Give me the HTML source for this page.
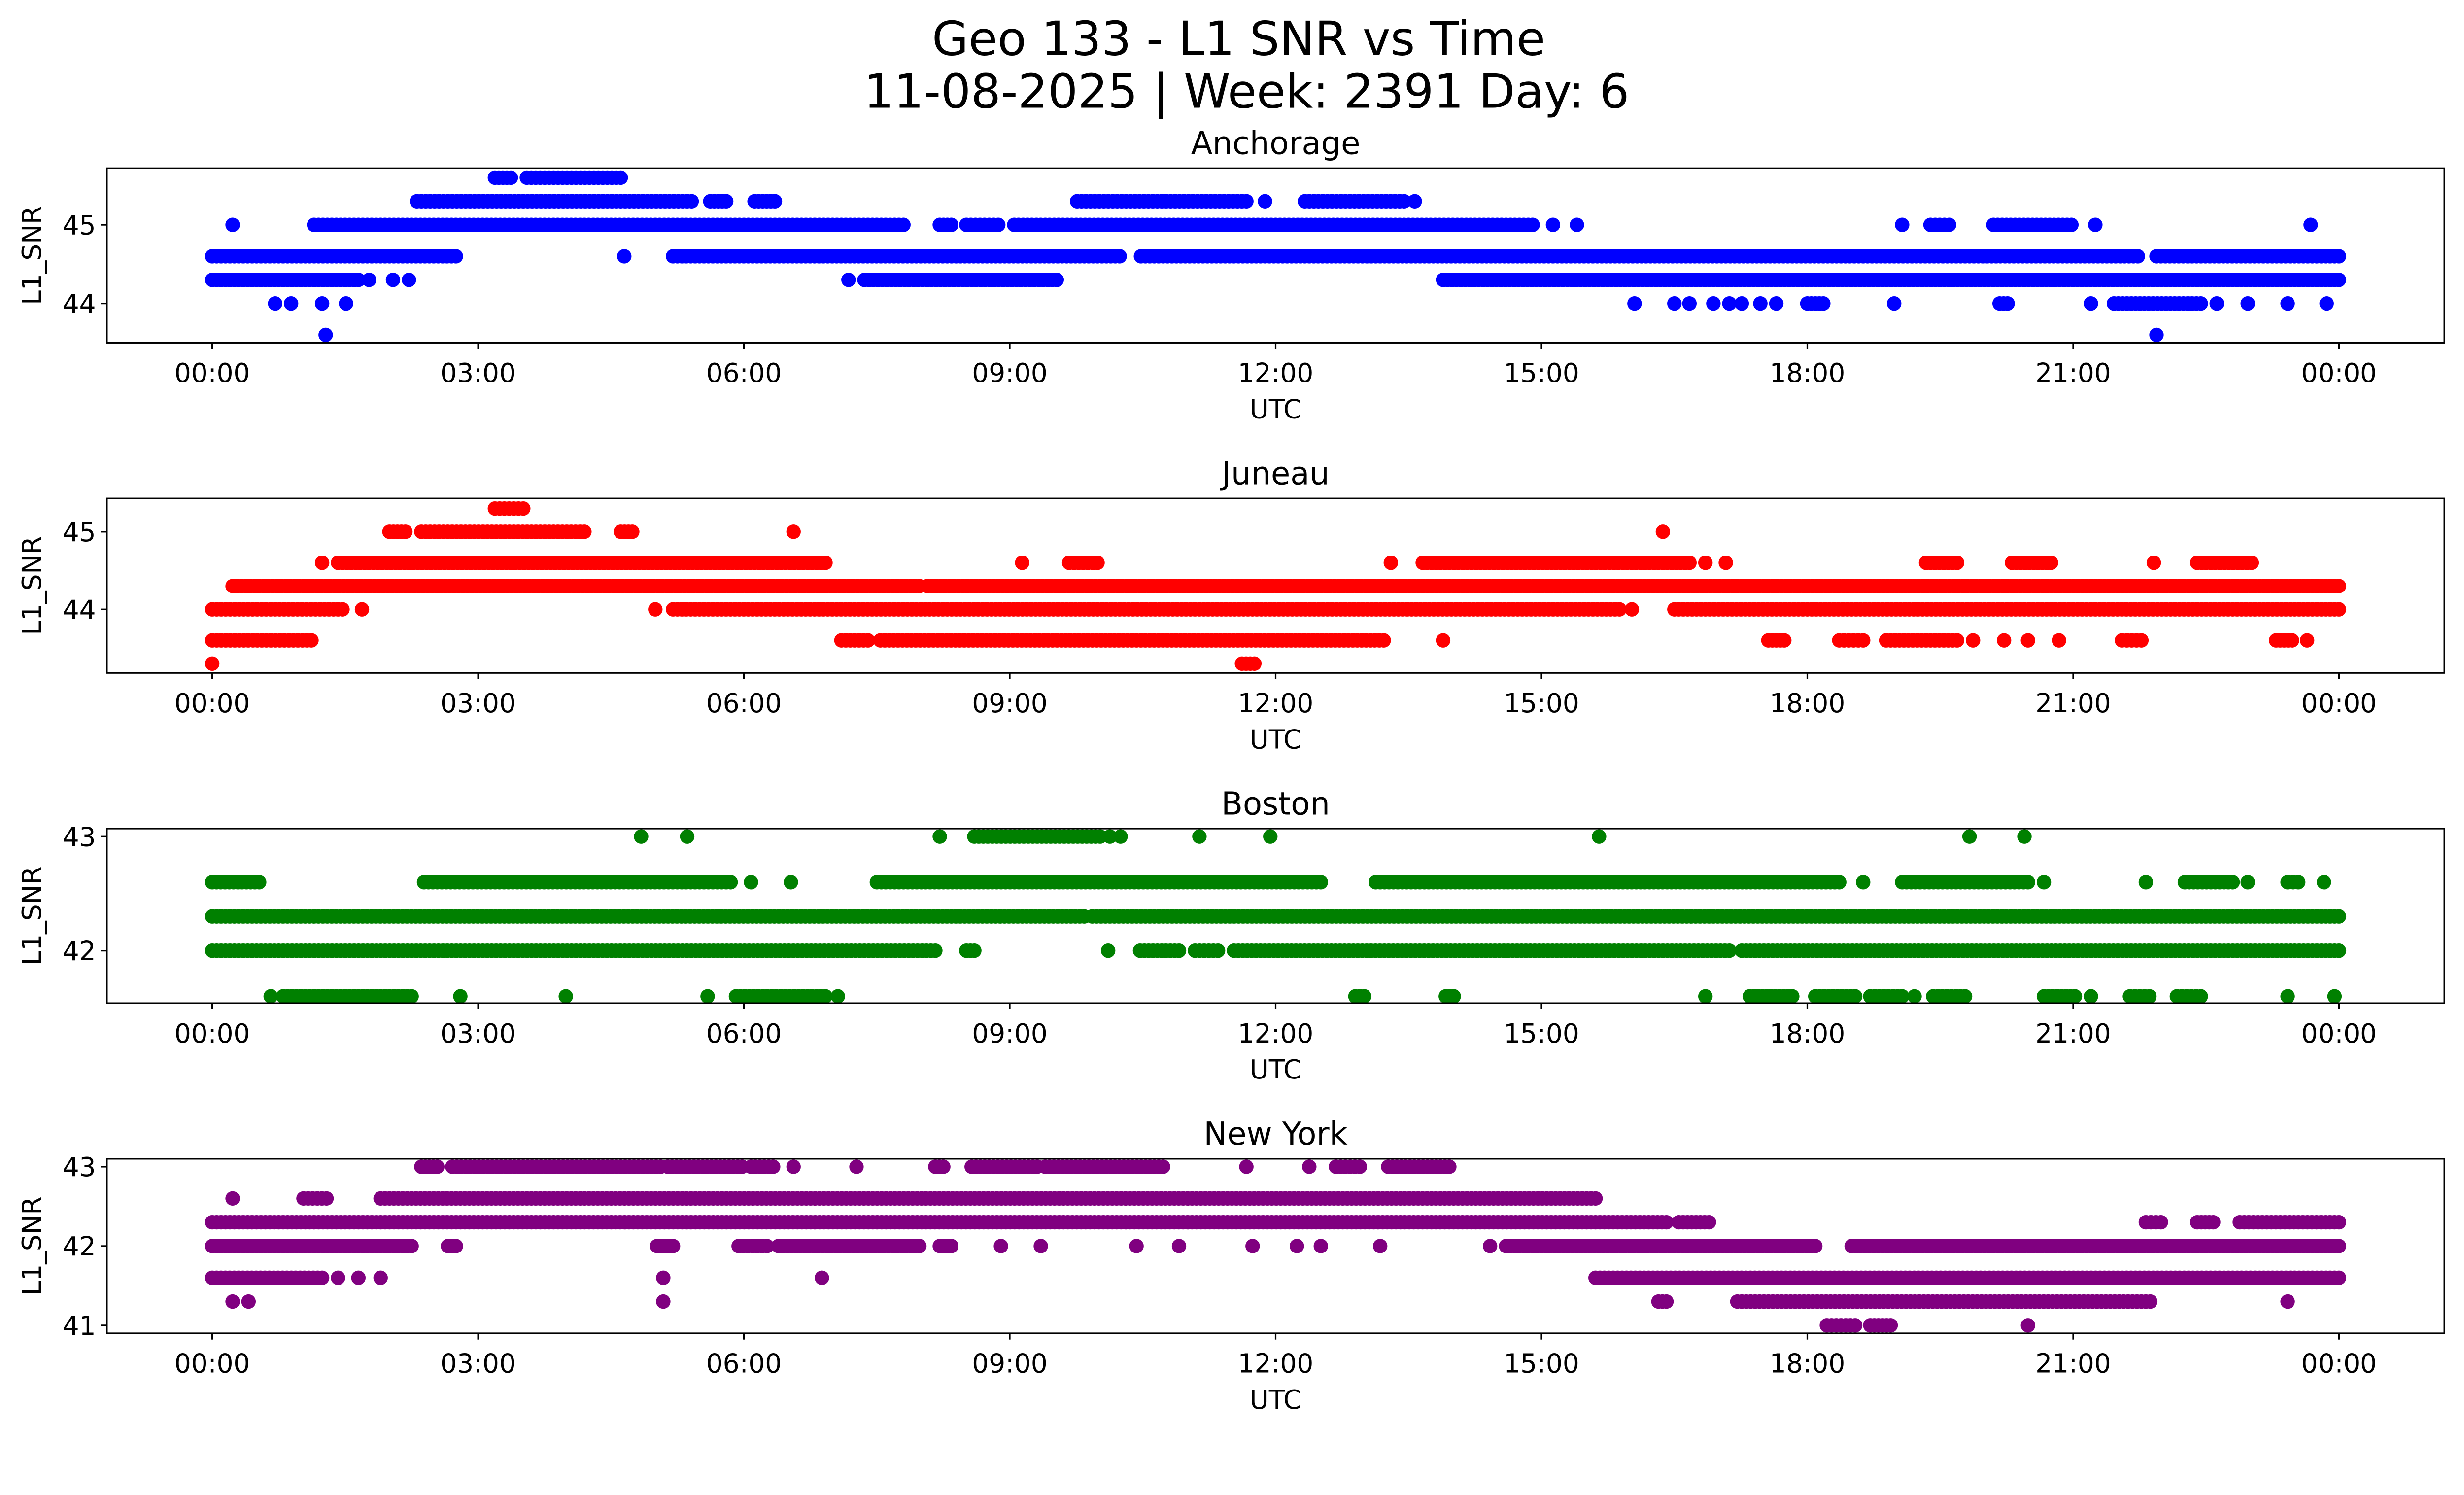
<!DOCTYPE html>
<html><head><meta charset="utf-8"><style>
html,body{margin:0;padding:0;background:#fff;width:5225px;height:3033px;overflow:hidden}
svg{display:block}
text{font-family:"DejaVu Sans","Liberation Sans",sans-serif;fill:#000}
</style></head><body>
<svg id="root" width="5225" height="3033" xmlns="http://www.w3.org/2000/svg">
<rect width="5225" height="3033" fill="#fff"/>
<g id="chart" transform="scale(3.1898)">
<text x="788" y="35" font-size="30" text-anchor="middle">Geo 133 - L1 SNR vs Time</text>
<text x="793" y="68.5" font-size="30" text-anchor="middle">11-08-2025 | Week: 2391 Day: 6</text>
</g>
</svg>
<script>
// Runs: [snr value, start hour, end hour]
const anchorageRuns = [
[44.6,0,2.75],[44.6,4.65,4.65],[44.6,5.2,10.24],[44.6,10.48,21.73],[44.6,21.94,24],
[44.3,0,1.65],[44.3,1.77,1.77],[44.3,2.04,2.04],[44.3,2.22,2.22],[44.3,7.18,7.18],[44.3,7.36,9.53],[44.3,13.89,24],
[44,0.71,0.71],[44,0.89,0.89],[44,1.24,1.24],[44,1.51,1.51],[44,16.05,16.05],[44,16.5,16.5],[44,16.67,16.67],[44,16.94,16.94],[44,17.12,17.12],[44,17.26,17.26],[44,17.47,17.47],[44,17.65,17.65],[44,18.0,18.18],[44,18.98,18.98],[44,20.17,20.26],[44,21.2,21.2],[44,21.46,22.44],[44,22.62,22.62],[44,22.97,22.97],[44,23.42,23.42],[44,23.86,23.86],
[43.6,1.28,1.28],[43.6,21.94,21.94],
[45,0.23,0.23],[45,1.15,7.8],[45,8.21,8.34],[45,8.51,8.87],[45,9.05,14.9],[45,15.13,15.13],[45,15.4,15.4],[45,19.07,19.07],[45,19.39,19.6],[45,20.1,20.98],[45,21.25,21.25],[45,23.68,23.68],
[45.3,2.31,5.41],[45.3,5.62,5.8],[45.3,6.12,6.35],[45.3,9.76,11.67],[45.3,11.88,11.88],[45.3,12.33,13.45],[45.3,13.57,13.57],
[45.6,3.19,3.37],[45.6,3.55,4.61]
];
const juneauRuns = [
[43.3,0,0],[43.3,11.62,11.76],
[43.6,0,1.12],[43.6,7.1,7.4],[43.6,7.54,13.22],[43.6,13.89,13.89],[43.6,17.56,17.74],[43.6,18.36,18.63],[43.6,18.89,19.69],[43.6,19.87,19.87],[43.6,20.22,20.22],[43.6,20.49,20.49],[43.6,20.84,20.84],[43.6,21.55,21.77],[43.6,23.29,23.47],[43.6,23.64,23.64],
[44,0,1.47],[44,1.69,1.69],[44,5.0,5.0],[44,5.2,15.88],[44,16.02,16.02],[44,16.5,24],
[44.3,0.23,7.98],[44.3,8.07,24],
[44.6,1.24,1.24],[44.6,1.42,6.92],[44.6,9.14,9.14],[44.6,9.67,9.99],[44.6,13.3,13.3],[44.6,13.66,16.67],[44.6,16.85,16.85],[44.6,17.08,17.08],[44.6,19.34,19.69],[44.6,20.31,20.75],[44.6,21.91,21.91],[44.6,22.4,23.01],
[45,2.0,2.18],[45,2.36,4.2],[45,4.61,4.74],[45,6.56,6.56],[45,16.37,16.37],
[45.3,3.19,3.51]
];
const bostonRuns = [
[41.6,0.66,0.66],[41.6,0.8,2.25],[41.6,2.8,2.8],[41.6,3.99,3.99],[41.6,5.59,5.59],[41.6,5.91,6.92],[41.6,7.06,7.06],[41.6,12.9,13.0],[41.6,13.92,14.01],[41.6,16.85,16.85],[41.6,17.35,17.83],[41.6,18.09,18.54],[41.6,18.71,19.07],[41.6,19.21,19.21],[41.6,19.42,19.78],[41.6,20.67,21.02],[41.6,21.2,21.2],[41.6,21.64,21.86],[41.6,22.17,22.44],[41.6,23.42,23.42],[41.6,23.95,23.95],
[42,0,8.16],[42,8.51,8.6],[42,10.11,10.11],[42,10.47,10.91],[42,11.09,11.35],[42,11.53,17.12],[42,17.26,24],
[42.3,0,9.84],[42.3,9.93,24],
[42.6,0,0.53],[42.6,2.39,5.85],[42.6,6.08,6.08],[42.6,6.53,6.53],[42.6,7.5,12.51],[42.6,13.13,18.36],[42.6,18.63,18.63],[42.6,19.07,20.49],[42.6,20.67,20.67],[42.6,21.82,21.82],[42.6,22.26,22.8],[42.6,22.97,22.97],[42.6,23.42,23.54],[42.6,23.83,23.83],
[43,4.84,4.84],[43,5.36,5.36],[43,8.21,8.21],[43,8.6,10.02],[43,10.13,10.13],[43,10.25,10.25],[43,11.14,11.14],[43,11.94,11.94],[43,15.65,15.65],[43,19.83,19.83],[43,20.45,20.45]
];
const newYorkRuns = [
[41,18.22,18.54],[41,18.71,18.94],[41,20.49,20.49],
[41.3,0.23,0.23],[41.3,0.41,0.41],[41.3,5.09,5.09],[41.3,16.32,16.41],[41.3,17.21,21.87],[41.3,23.42,23.42],
[41.6,0,1.24],[41.6,1.42,1.42],[41.6,1.65,1.65],[41.6,1.9,1.9],[41.6,5.09,5.09],[41.6,6.88,6.88],[41.6,15.61,24],
[42,0,2.25],[42,2.66,2.75],[42,5.02,5.2],[42,5.94,6.26],[42,6.39,7.98],[42,8.21,8.34],[42,8.9,8.9],[42,9.35,9.35],[42,10.43,10.43],[42,10.91,10.91],[42,11.74,11.74],[42,12.24,12.24],[42,12.51,12.51],[42,13.18,13.18],[42,14.42,14.42],[42,14.6,18.09],[42,18.5,24],
[42.3,0,16.41],[42.3,16.55,16.89],[42.3,21.82,21.99],[42.3,22.4,22.58],[42.3,22.88,24],
[42.6,0.23,0.23],[42.6,1.03,1.29],[42.6,1.9,15.61],
[43,2.36,2.54],[43,2.71,5.06],[43,5.14,5.98],[43,6.08,6.33],[43,6.56,6.56],[43,7.27,7.27],[43,8.16,8.25],[43,8.57,9.31],[43,9.4,10.73],[43,11.67,11.67],[43,12.38,12.38],[43,12.68,12.95],[43,13.27,13.96]
];
const xTickHours = [0,3,6,9,12,15,18,21,24];
const xTickLabels = ["00:00","03:00","06:00","09:00","12:00","15:00","18:00","21:00","00:00"];
const anchorageTicks = [44,45];
const juneauTicks = [44,45];
const bostonTicks = [42,43];
const newYorkTicks = [41,42,43];

const NS = "http://www.w3.org/2000/svg";
const svg = document.getElementById('chart');
function mk(tag, attrs, parent){
  const e = document.createElementNS(NS, tag);
  for (const k in attrs) e.setAttribute(k, attrs[k]);
  (parent||svg).appendChild(e);
  return e;
}
const X0 = 68, X1 = 1555;
function xScale(h){ return 135 + h * (1353/24); }

function panel(name, slug, top, ymin, ymax, ticks, runs, color){
  const H = 111;
  const yScale = v => top + H - (v - ymin) / (ymax - ymin) * H;
  const g = mk('g', {});
  
  
  const t = mk('text', {x:(X0+X1)/2, y:top-9, 'font-size':20, 'text-anchor':'middle'}, g);
  t.textContent = name;
  
  
  const pts = mk('g', {fill:color}, g);
  
  
  runs.forEach(r => {
    const v = r[0], a = r[1], b = r[2];
    const y = yScale(v);
    const n = Math.max(1, Math.round((b - a) / 0.05));
    for (let i = 0; i <= n; i++) {
      const h = (b === a) ? a : a + (b - a) * i / n;
      const c = mk('circle', {cx:xScale(h).toFixed(2), cy:y.toFixed(2), r:4.6}, pts);
      
      
      if (b === a) break;
    }
  });
  const frame = mk('rect', {x:X0, y:top, width:X1-X0, height:H, fill:'none', stroke:'#000', 'stroke-width':1}, g);
  
  
  xTickHours.forEach((h, i) => {
    const x = xScale(h);
    mk('line', {x1:x, x2:x, y1:top+H, y2:top+H+4, stroke:'#000', 'stroke-width':1}, g);
    const tl = mk('text', {x:x, y:top+H+25, 'font-size':16.7, 'text-anchor':'middle'}, g);
    tl.textContent = xTickLabels[i];
    
    
  });
  ticks.forEach(v => {
    const y = yScale(v);
    mk('line', {x1:X0-4, x2:X0, y1:y, y2:y, stroke:'#000', 'stroke-width':1}, g);
    const tl = mk('text', {x:X0-7, y:y+6, 'font-size':16.7, 'text-anchor':'end'}, g);
    tl.textContent = v;
    
    
  });
  const xl = mk('text', {x:(X0+X1)/2, y:top+H+48, 'font-size':16.7, 'text-anchor':'middle'}, g);
  xl.textContent = 'UTC';
  
  
  const cy = top + H/2;
  const yl = mk('text', {x:26, y:cy, 'font-size':16.7, 'text-anchor':'middle', transform:'rotate(-90 26 '+cy+')'}, g);
  yl.textContent = 'L1_SNR';
  
  
}
panel('Anchorage', 'anchorage', 107, 43.5, 45.72, anchorageTicks, anchorageRuns, '#0000ff');
panel('Juneau', 'juneau', 317, 43.18, 45.43, juneauTicks, juneauRuns, '#ff0000');
panel('Boston', 'boston', 527, 41.54, 43.07, bostonTicks, bostonRuns, '#008000');
panel('New York', 'new-york', 737, 40.9, 43.1, newYorkTicks, newYorkRuns, '#800080');
</script>
</body></html>
